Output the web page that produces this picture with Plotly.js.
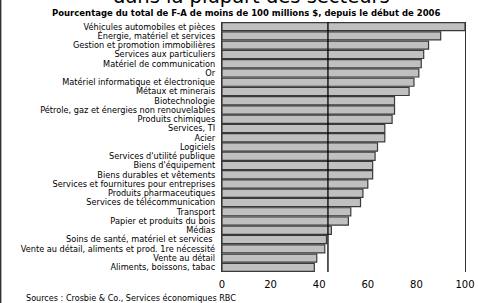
<!DOCTYPE html>
<html>
<head>
<meta charset="utf-8">
<script src="https://cdn.plot.ly/plotly-3.0.1.min.js"></script>
<style>
html,body{margin:0;padding:0;background:#fff;}
#wrap{position:relative;width:478px;height:303px;overflow:hidden;}
#chart{width:478px;height:303px;}
</style>
</head>
<body>
<div id="wrap"><div id="chart"></div></div>
<script>
const sectors = [
  "Véhicules automobiles et pièces",
  "Énergie, matériel et services",
  "Gestion et promotion immobilières",
  "Services aux particuliers",
  "Matériel de communication",
  "Or",
  "Matériel informatique et électronique",
  "Métaux et minerais",
  "Biotechnologie",
  "Pétrole, gaz et énergies non renouvelables",
  "Produits chimiques",
  "Services, TI",
  "Acier",
  "Logiciels",
  "Services d'utilité publique",
  "Biens d'équipement",
  "Biens durables et vêtements",
  "Services et fournitures pour entreprises",
  "Produits pharmaceutiques",
  "Services de télécommunication",
  "Transport",
  "Papier et produits du bois",
  "Médias",
  "Soins de santé, matériel et services ",
  "Vente au détail, aliments et prod. 1re nécessité",
  "Vente au détail",
  "Aliments, boissons, tabac"
];
const percentages = [100, 90, 85, 83, 82, 81, 79, 77, 71, 71, 70, 67, 67, 64, 63, 62, 62, 60, 58, 57, 53, 52, 45, 43, 42.3, 39, 38];
const averageAll = 43.6;
const xTicks = [0, 20, 40, 60, 80, 100];

const font = "DejaVu Sans, Verdana, sans-serif";

const trace = {
  type: "bar",
  orientation: "h",
  y: sectors,
  x: percentages,
  marker: {color: "#c0c0c0", line: {color: "#3a3a3a", width: 1.2}},
  hoverinfo: "none"
};

const layout = {
  width: 478,
  height: 303,
  margin: {l: 222, r: 13, t: 22, b: 31},
  paper_bgcolor: "#ffffff",
  plot_bgcolor: "#ffffff",
  showlegend: false,
  bargap: 0.12,
  font: {family: font, color: "#000"},
  xaxis: {
    range: [0, 100],
    tickvals: xTicks,
    ticktext: xTicks.map(String),
    showgrid: false,
    zeroline: false,
    showline: false,
    ticks: "",
    ticklabelstandoff: 5,
    tickfont: {size: 10, family: font, color: "#000"},
    fixedrange: true
  },
  yaxis: {
    type: "category",
    autorange: "reversed",
    tickmode: "array",
    tickvals: sectors,
    ticktext: sectors,
    showgrid: false,
    zeroline: false,
    showline: true,
    mirror: true,
    linecolor: "#333",
    linewidth: 1.2,
    ticks: "",
    ticklabelstandoff: 4,
    tickfont: {size: 8.2, family: font, color: "#000"},
    fixedrange: true
  },
  shapes: [
    {type: "line", xref: "x", yref: "paper", x0: averageAll, x1: averageAll, y0: 0, y1: 1,
     line: {color: "#000", width: 1.3}, layer: "above"},
    {type: "line", xref: "paper", yref: "paper", x0: -0.912, x1: -0.912, y0: -0.13, y1: 1.1,
     line: {color: "#333", width: 2}, layer: "above"}
  ],
  annotations: [
    {text: "dans la plupart des secteurs", xref: "paper", yref: "paper", x: 0.12, y: 1, xanchor: "center",
     yanchor: "bottom", yshift: 11.5, showarrow: false, font: {size: 19.5, family: font, color: "#000"}},
    {text: "<b>Pourcentage du total de F-A de moins de 100 millions $, depuis le début de 2006</b>",
     xref: "paper", yref: "paper", x: 0.1, y: 1, xanchor: "center", yanchor: "bottom", yshift: 2,
     showarrow: false, font: {size: 8.5, family: font, color: "#000"}},
    {text: "Sources : Crosbie & Co., Services économiques RBC", xref: "paper", yref: "paper",
     x: -0.815, y: 0, xanchor: "left", yanchor: "top", yshift: -19, showarrow: false,
     font: {size: 8.1, family: font, color: "#000"}}
  ]
};

Plotly.newPlot("chart", [trace], layout, {staticPlot: true, displayModeBar: false});
</script>
</body>
</html>
